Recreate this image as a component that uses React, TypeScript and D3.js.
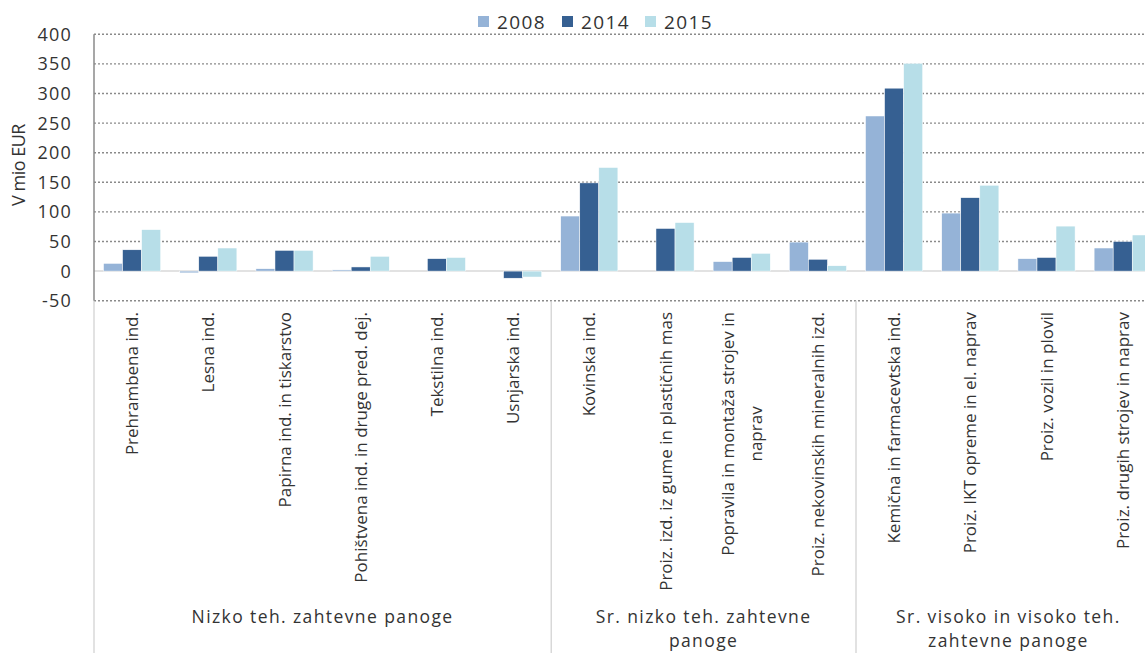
import React, { useRef, useEffect } from 'react';
import * as d3 from 'd3';

// Category labels; '|' marks a line break in the axis label
const categories = [
  'Prehrambena ind.',
  'Lesna ind.',
  'Papirna ind. in tiskarstvo',
  'Pohištvena ind. in druge pred. dej.',
  'Tekstilna ind.',
  'Usnjarska ind.',
  'Kovinska ind.',
  'Proiz. izd. iz gume in plastičnih mas',
  'Popravila in montaža strojev in|naprav',
  'Proiz. nekovinskih mineralnih izd.',
  'Kemična in farmacevtska ind.',
  'Proiz. IKT opreme in el. naprav',
  'Proiz. vozil in plovil',
  'Proiz. drugih strojev in naprav',
];

const groupNames = [
  'Nizko teh. zahtevne panoge',
  'Sr. nizko teh. zahtevne|panoge',
  'Sr. visoko in visoko teh.|zahtevne panoge',
];
const groupSizes = [6, 4, 4];

const years = ['2008', '2014', '2015'];
const values2008 = [13, -3, 4, 2, 0, 0, 93, 0, 16, 49, 262, 98, 21, 39];
const values2014 = [36, 25, 35, 7, 21, -12, 149, 72, 23, 20, 309, 124, 23, 50];
const values2015 = [70, 39, 35, 25, 23, -10, 175, 82, 30, 9, 351, 145, 76, 61];

const yTicks = [-50, 0, 50, 100, 150, 200, 250, 300, 350, 400];

const W = 1145;
const H = 653;

const App: React.FC = () => {
  const svgRef = useRef<SVGSVGElement | null>(null);

  useEffect(() => {
    document.body.style.margin = '0';
    if (!svgRef.current) return;
    const svg = d3.select(svgRef.current);
    svg.selectAll('*').remove();

    const font = '"Open Sans", "Noto Sans", sans-serif';
    const colors: Record<string, string> = {
      '2008': '#95b3d7',
      '2014': '#366092',
      '2015': '#b7dee8',
    };
    const textColor = '#333';

    const left = 94;
    const step = 76.2;
    const plotTop = 34.3;
    const plotBottom = 300.7;

    const x = d3.scaleBand<string>()
      .domain(categories)
      .range([left, left + step * categories.length])
      .paddingInner(0)
      .paddingOuter(0);

    const xSub = d3.scaleBand<string>()
      .domain(years)
      .range([0, x.bandwidth()])
      .paddingInner(0)
      .paddingOuter(0.5);

    const y = d3.scaleLinear().domain([-50, 400]).range([plotBottom, plotTop]);

    const seriesValues: Record<string, number[]> = {
      '2008': values2008,
      '2014': values2014,
      '2015': values2015,
    };

    // Gridlines (dotted) except zero
    svg.append('g')
      .selectAll('line')
      .data(yTicks.filter(t => t !== 0))
      .join('line')
      .attr('x1', left)
      .attr('x2', W)
      .attr('y1', d => y(d))
      .attr('y2', d => y(d))
      .attr('stroke', '#8a8a8a')
      .attr('stroke-width', 1.4)
      .attr('stroke-dasharray', '2,2');

    // Zero line
    svg.append('line')
      .attr('x1', left)
      .attr('x2', W)
      .attr('y1', y(0))
      .attr('y2', y(0))
      .attr('stroke', '#d9d9d9')
      .attr('stroke-width', 1.5);

    // Bars
    years.forEach(yr => {
      svg.append('g')
        .selectAll('rect')
        .data(seriesValues[yr])
        .join('rect')
        .attr('x', (_, i) => (x(categories[i]) as number) + (xSub(yr) as number))
        .attr('y', d => y(Math.max(0, d)))
        .attr('width', xSub.bandwidth())
        .attr('height', d => Math.abs(y(d) - y(0)))
        .attr('fill', colors[yr])
        .attr('stroke', '#ffffff')
        .attr('stroke-width', 0.5);
    });

    // Left axis line
    svg.append('line')
      .attr('x1', left)
      .attr('x2', left)
      .attr('y1', plotTop)
      .attr('y2', plotBottom)
      .attr('stroke', '#8a8a8a')
      .attr('stroke-width', 1.5);

    // Y tick labels
    svg.append('g')
      .selectAll('text')
      .data(yTicks)
      .join('text')
      .attr('x', 72)
      .attr('y', d => y(d))
      .attr('dy', '0.36em')
      .attr('text-anchor', 'end')
      .attr('font-family', font)
      .attr('font-size', 18)
      .attr('letter-spacing', 1.2)
      .attr('fill', textColor)
      .text(d => String(d));

    // Y axis title
    svg.append('text')
      .attr('transform', `translate(25, 165) rotate(-90)`)
      .attr('text-anchor', 'middle')
      .attr('font-family', font)
      .attr('font-size', 18)
      .attr('letter-spacing', -0.5)
      .attr('fill', textColor)
      .text('V mio EUR');

    // Category labels (rotated)
    const lineH = 28;
    categories.forEach(cat => {
      const lines = cat.split('|');
      const cx = (x(cat) as number) + x.bandwidth() / 2;
      const g = svg.append('g')
        .attr('transform', `translate(${cx}, 312) rotate(-90)`);
      const t = g.append('text')
        .attr('font-family', font)
        .attr('font-size', 17)
        .attr('letter-spacing', 0)
        .attr('fill', textColor);
      lines.forEach((l, li) => {
        t.append('tspan')
          .attr('x', 0)
          .attr('y', (li - (lines.length - 1) / 2) * lineH + 6)
          .text(l);
      });
      // right-align block, centre the lines within it
      const tsp = t.selectAll<SVGTSpanElement, unknown>('tspan').nodes();
      const widths = tsp.map(n => n.getComputedTextLength());
      const maxW = d3.max(widths) ?? 0;
      tsp.forEach((n, i) => {
        d3.select(n).attr('x', -maxW + (maxW - widths[i]) / 2);
      });
    });

    // Group dividers and labels
    let start = 0;
    const bounds = [0];
    groupSizes.forEach(s => { start += s; bounds.push(start); });
    bounds.forEach(b => {
      if (b >= categories.length) return;
      const bx = x(categories[b]) as number;
      svg.append('line')
        .attr('x1', bx)
        .attr('x2', bx)
        .attr('y1', plotBottom)
        .attr('y2', H)
        .attr('stroke', '#cfcfcf')
        .attr('stroke-width', 1.2);
    });
    groupNames.forEach((name, gi) => {
      const x0 = x(categories[bounds[gi]]) as number;
      const x1 = x0 + groupSizes[gi] * step;
      const lines = name.split('|');
      const t = svg.append('text')
        .attr('text-anchor', 'middle')
        .attr('font-family', font)
        .attr('font-size', 17.5)
        .attr('letter-spacing', 1.4)
        .attr('fill', textColor);
      lines.forEach((l, li) => {
        t.append('tspan')
          .attr('x', (x0 + x1) / 2)
          .attr('y', 623 + li * 24)
          .text(l);
      });
    });

    // Legend
    const legendX = [478, 562, 645];
    years.forEach((yr, i) => {
      svg.append('rect')
        .attr('x', legendX[i])
        .attr('y', 16)
        .attr('width', 11)
        .attr('height', 11)
        .attr('fill', colors[yr]);
      svg.append('text')
        .attr('x', legendX[i] + 19)
        .attr('y', 22)
        .attr('dy', '0.36em')
        .attr('font-family', font)
        .attr('font-size', 19)
        .attr('letter-spacing', 1.4)
        .attr('fill', textColor)
        .text(yr);
    });
  }, []);

  return <svg ref={svgRef} width={W} height={H} style={{ display: 'block' }} />;
};

export default App;
